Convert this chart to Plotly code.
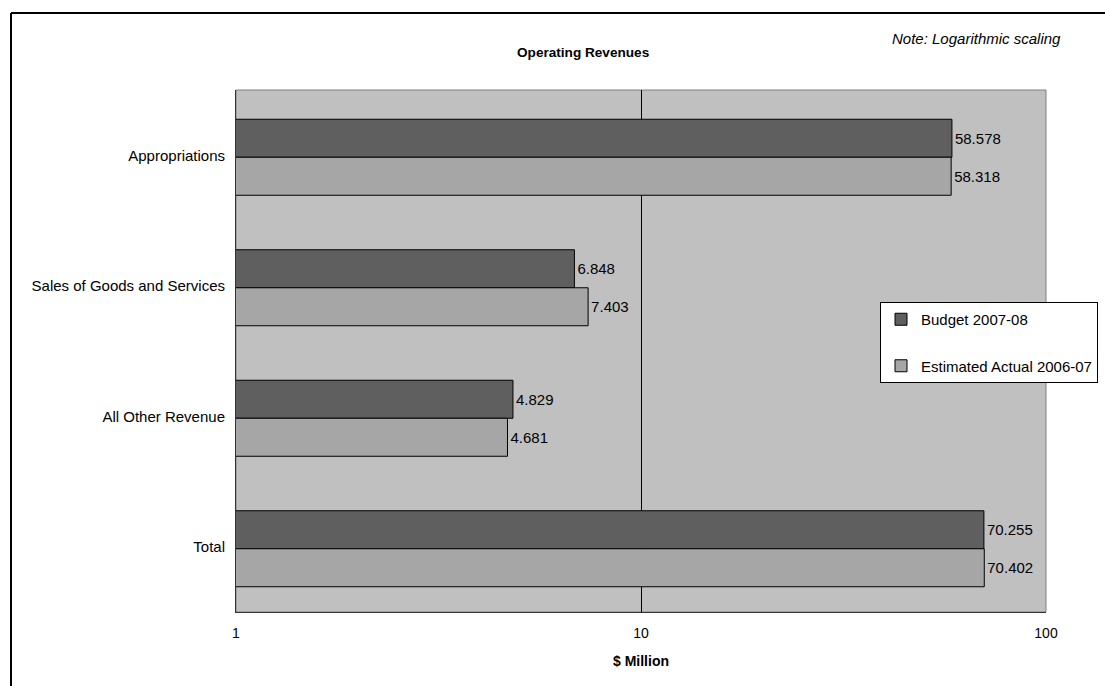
import plotly.graph_objects as go

categories = ["Appropriations", "Sales of Goods and Services", "All Other Revenue", "Total"]
budget_2007_08 = [58.578, 6.848, 4.829, 70.255]
estimated_2006_07 = [58.318, 7.403, 4.681, 70.402]
series_names = ["Budget 2007-08", "Estimated Actual 2006-07"]
x_tick_vals = [1, 10, 100]
x_tick_text = ["1", "10", "100"]

W, H = 1105, 686
L, R, T, B = 236, 1046, 90, 612
pw, ph = R - L, B - T

def px(x):
    return (x - L) / pw

def py(y):
    return (B - y) / ph

FONT = "Arial, Liberation Sans, sans-serif"
band = ph / len(categories)
bw = 38 / band
shift = 2 / band

fig = go.Figure()
fig.add_trace(go.Bar(
    y=categories, x=budget_2007_08, orientation="h", name=series_names[0],
    marker=dict(color="#5f5f5f", line=dict(color="#000000", width=1)),
    width=bw, offset=-bw + shift,
    text=[f"{v:.3f}" for v in budget_2007_08], textposition="outside",
    textfont=dict(size=15, color="#000000", family=FONT),
    legendgroup="a", cliponaxis=False,
))
fig.add_trace(go.Bar(
    y=categories, x=estimated_2006_07, orientation="h", name=series_names[1],
    marker=dict(color="#a6a6a6", line=dict(color="#000000", width=1)),
    width=bw, offset=shift,
    text=[f"{v:.3f}" for v in estimated_2006_07], textposition="outside",
    textfont=dict(size=15, color="#000000", family=FONT),
    legendgroup="b", cliponaxis=False,
))

fig.update_layout(
    width=W, height=H,
    margin=dict(l=L, r=W - R, t=T, b=H - B, autoexpand=False),
    paper_bgcolor="#ffffff", plot_bgcolor="#c0c0c0",
    barmode="group",
    font=dict(family=FONT, size=15, color="#000000"),
    showlegend=True,
    legend=dict(
        x=px(880), y=py(302), xanchor="left", yanchor="top",
        bgcolor="#ffffff", bordercolor="#000000", borderwidth=1,
        font=dict(size=15, family=FONT), traceorder="grouped",
        tracegroupgap=24, itemwidth=30,
    ),
    xaxis=dict(
        type="log", range=[0, 2], tickvals=x_tick_vals, ticktext=x_tick_text,
        showgrid=True, gridcolor="#000000", gridwidth=1,
        showline=True, linecolor="#333333", linewidth=1, mirror=False,
        ticks="", ticklen=0, tickfont=dict(size=14), zeroline=False,
        ticklabelstandoff=8, automargin=False,
        title=dict(text="<b>$ Million</b>", font=dict(size=14), standoff=16),
    ),
    yaxis=dict(
        autorange="reversed", showgrid=False, showline=True, linecolor="#333333",
        linewidth=1, ticks="", tickfont=dict(size=15), ticklabelstandoff=7,
        automargin=False,
    ),
    shapes=[
        dict(type="rect", xref="paper", yref="paper", x0=0, x1=1, y0=0, y1=1,
             line=dict(color="#808080", width=1), layer="below"),
        dict(type="line", xref="paper", yref="paper", x0=px(11), x1=px(1200),
             y0=py(13), y1=py(13), line=dict(color="#000000", width=2)),
        dict(type="line", xref="paper", yref="paper", x0=px(11), x1=px(11),
             y0=py(13), y1=py(800), line=dict(color="#000000", width=2)),
    ],
    annotations=[
        dict(text="<b>Operating Revenues</b>", xref="paper", yref="paper",
             x=px(583), y=py(52), xanchor="center", yanchor="middle",
             showarrow=False, font=dict(size=13.6)),
        dict(text="<i>Note: Logarithmic scaling</i>", xref="paper", yref="paper",
             x=px(1063), y=py(38), xanchor="right", yanchor="middle",
             showarrow=False, font=dict(size=15)),
    ],
)

fig.write_html("out.html")
